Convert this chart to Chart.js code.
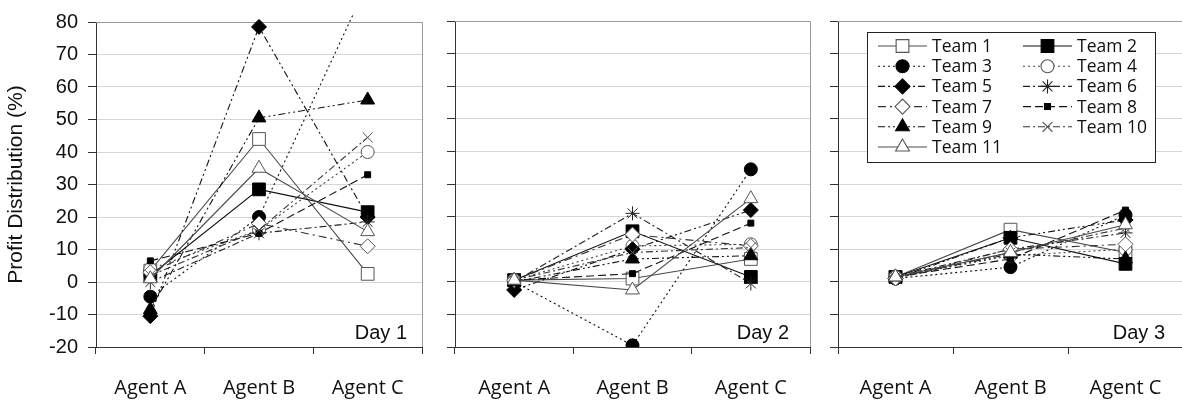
<!DOCTYPE html>
<html>
<head>
<meta charset="utf-8">
<script src="https://cdn.jsdelivr.net/npm/chart.js"></script>
<style>
html, body { margin: 0; padding: 0; background: #fff; overflow: hidden; }
#wrap { position: relative; width: 1182px; height: 401px; overflow: hidden; }
canvas { position: absolute; top: 0; }
</style>
</head>
<body>
<div id="wrap">
    <canvas id="day1" width="432" height="401" style="left:0;width:432px;height:401px"></canvas>
    <canvas id="day2" width="380" height="401" style="left:440px;width:380px;height:401px"></canvas>
    <canvas id="day3" width="370" height="401" style="left:823px;width:370px;height:401px"></canvas>
</div>
<script>
// data, one [Agent A, Agent B, Agent C] row per team
const agents = ['Agent A', 'Agent B', 'Agent C'];
const teams = ['Team 1', 'Team 2', 'Team 3', 'Team 4', 'Team 5', 'Team 6',
               'Team 7', 'Team 8', 'Team 9', 'Team 10', 'Team 11'];
const yTicks = [-20, -10, 0, 10, 20, 30, 40, 50, 60, 70, 80];

const day1 = [
    [3.5, 44, 2.5],
    [2, 28.5, 21.5],
    [-4.5, 20, 92],
    [4, 16, 40],
    [-10.5, 78.5, 20],
    [0, 15, 18.5],
    [3, 18, 11],
    [6.5, 15, 33],
    [-8.5, 50.5, 56],
    [2, 16, 44.5],
    [1, 35, 15.5]
];
const day2 = [
    [0.5, 1, 7],
    [0.5, 15.5, 1.5],
    [0, -19.5, 34.5],
    [0.5, 11, 11.5],
    [-2.5, 10, 22],
    [0, 21, -0.5],
    [0.5, 14.5, 11],
    [0.5, 2.5, 18],
    [0, 7, 8],
    [0.5, 9, 10.5],
    [0.5, -2.5, 25.5]
];
const day3 = [
    [1.5, 16, 9],
    [1.5, 13.5, 5.5],
    [1, 4.5, 20.5],
    [1.5, 8, 10],
    [1, 13.5, 19],
    [1.5, 10, 15],
    [1, 10, 11.5],
    [1.5, 7, 22],
    [1.5, 8.5, 7],
    [1, 9, 16.5],
    [1.5, 9, 17.5]
];

// line + marker look per team (Excel-like grayscale)
const dotted = [2, 3], dashDot = [7, 3, 2, 3], dashDotDot = [7, 3, 2, 3, 2, 3], longDash = [8, 4];
const teamStyles = [
    { dash: [], line: '#4a4a4a', point: 'rect', r: 9, fill: '#fff', stroke: '#555' },
    { dash: [], line: '#111', point: 'rect', r: 9, fill: '#000', stroke: '#000' },
    { dash: dotted, line: '#111', point: 'circle', r: 6.5, fill: '#000', stroke: '#000' },
    { dash: dotted, line: '#444', point: 'circle', r: 6.5, fill: '#fff', stroke: '#555' },
    { dash: dashDotDot, line: '#111', point: 'rectRot', r: 7.5, fill: '#000', stroke: '#000' },
    { dash: dashDot, line: '#222', point: 'star', r: 7, fill: '#000', stroke: '#222' },
    { dash: [8, 4, 2, 4], line: '#333', point: 'rectRot', r: 7.5, fill: '#fff', stroke: '#555' },
    { dash: longDash, line: '#111', point: 'rect', r: 4.2, fill: '#000', stroke: '#000' },
    { dash: dashDotDot, line: '#111', point: 'triangle', r: 8, fill: '#000', stroke: '#000' },
    { dash: dashDot, line: '#333', point: 'crossRot', r: 7, fill: '#fff', stroke: '#555' },
    { dash: [], line: '#4a4a4a', point: 'triangle', r: 8, fill: '#fff', stroke: '#555' }
];

const axisFont = { family: 'Liberation Sans', size: 20 };
const titleFont = { family: 'Liberation Sans', size: 21 };
const catFont = { family: 'Open Sans', size: 20 };

function buildDatasets(values) {
    return teams.map((name, i) => ({
        label: name,
        data: values[i],
        borderColor: teamStyles[i].line,
        borderWidth: 1.1,
        borderDash: teamStyles[i].dash,
        pointStyle: teamStyles[i].point,
        pointRadius: teamStyles[i].r,
        pointBackgroundColor: teamStyles[i].fill,
        pointBorderColor: teamStyles[i].stroke,
        pointBorderWidth: 1,
        tension: 0,
        order: teams.length - i,
        clip: { left: 0, top: 9, right: 0, bottom: 0 }
    }));
}

// gray top/right frame of the plot area
const frame = {
    id: 'frame',
    beforeDatasetsDraw(chart) {
        const a = chart.chartArea, ctx = chart.ctx;
        ctx.save();
        ctx.strokeStyle = '#9a9a9a';
        ctx.lineWidth = 1;
        ctx.beginPath();
        ctx.moveTo(a.left, Math.round(a.top) + 0.5);
        ctx.lineTo(Math.round(a.right) + 0.5, Math.round(a.top) + 0.5);
        ctx.lineTo(Math.round(a.right) + 0.5, a.bottom);
        ctx.stroke();
        ctx.restore();
    }
};

const dayLabel = {
    id: 'dayLabel',
    afterDatasetsDraw(chart, args, opts) {
        const a = chart.chartArea, ctx = chart.ctx;
        ctx.save();
        ctx.font = '20px "Liberation Sans"';
        ctx.fillStyle = '#111';
        ctx.textAlign = 'right';
        ctx.textBaseline = 'alphabetic';
        ctx.fillText(opts.text, a.right - opts.dx, a.bottom - 8);
        ctx.restore();
    }
};

// boxed two-column legend drawn from the datasets' own styles
const legendBox = {
    id: 'legendBox',
    afterDatasetsDraw(chart) {
        const a = chart.chartArea, ctx = chart.ctx;
        const x0 = Math.round(a.left) + 29, y0 = Math.round(a.top) + 11, w = 288, h = 130;
        ctx.save();
        ctx.fillStyle = '#fff';
        ctx.fillRect(x0, y0, w, h);
        ctx.strokeStyle = '#222';
        ctx.lineWidth = 1;
        ctx.strokeRect(x0 + 0.5, y0 + 0.5, w, h);
        chart.data.datasets.forEach((ds, i) => {
            const lx = x0 + 11 + (i % 2) * 145;
            const ly = y0 + 14 + Math.floor(i / 2) * 20.2;
            ctx.setLineDash(ds.borderDash);
            ctx.strokeStyle = ds.borderColor;
            ctx.lineWidth = 1.1;
            ctx.beginPath();
            ctx.moveTo(lx, ly);
            ctx.lineTo(lx + 49, ly);
            ctx.stroke();
            ctx.setLineDash([]);
            ctx.fillStyle = ds.pointBackgroundColor;
            ctx.strokeStyle = ds.pointBorderColor;
            Chart.helpers.drawPoint(ctx, { pointStyle: ds.pointStyle, radius: ds.pointRadius, borderWidth: 1, rotation: 0 }, lx + 24.5, ly);
            ctx.fillStyle = '#111';
            ctx.font = '17.5px "Open Sans"';
            ctx.textAlign = 'left';
            ctx.textBaseline = 'middle';
            ctx.fillText(ds.label, lx + 54, ly + 1);
        });
        ctx.restore();
    }
};

function makeChart(id, values, opt) {
    const plugins = [frame, dayLabel];
    if (opt.legend) plugins.push(legendBox);
    return new Chart(document.getElementById(id), {
        type: 'line',
        data: { labels: agents, datasets: buildDatasets(values) },
        plugins: plugins,
        options: {
            responsive: false,
            animation: false,
            devicePixelRatio: 1,
            layout: { padding: { top: 21, right: opt.padRight, left: 0, bottom: 0 } },
            plugins: {
                legend: { display: false },
                tooltip: { enabled: false },
                dayLabel: { text: opt.day, dx: opt.dx }
            },
            scales: {
                x: {
                    type: 'category',
                    offset: true,
                    grid: { offset: true, drawOnChartArea: false, drawTicks: true, tickLength: 7, tickColor: '#333' },
                    border: { color: '#333', width: 1 },
                    ticks: { font: catFont, color: '#111', padding: 22, maxRotation: 0 },
                    afterFit(scale) { scale.height = 54; }
                },
                y: {
                    min: -20,
                    max: 80,
                    afterBuildTicks(scale) { scale.ticks = yTicks.map(v => ({ value: v })); },
                    grid: { color: '#d6d6d6', drawTicks: true, tickLength: 8, tickColor: '#333' },
                    border: { color: '#333', width: 1 },
                    ticks: { display: opt.yLabels, font: axisFont, color: '#111', padding: 10 },
                    title: {
                        display: opt.yLabels,
                        text: 'Profit Distribution (%)',
                        font: titleFont,
                        color: '#111',
                        padding: { top: 4, bottom: 0 }
                    },
                    afterFit(scale) { scale.width = opt.yWidth; }
                }
            }
        }
    });
}

makeChart('day1', day1, { day: 'Day 1', dx: 15, padRight: 5, yWidth: 96, yLabels: true, legend: false });
makeChart('day2', day2, { day: 'Day 2', dx: 21, padRight: 9, yWidth: 15, yLabels: false, legend: false });
makeChart('day3', day3, { day: 'Day 3', dx: 18, padRight: 7, yWidth: 15, yLabels: false, legend: true });
</script>
</body>
</html>
